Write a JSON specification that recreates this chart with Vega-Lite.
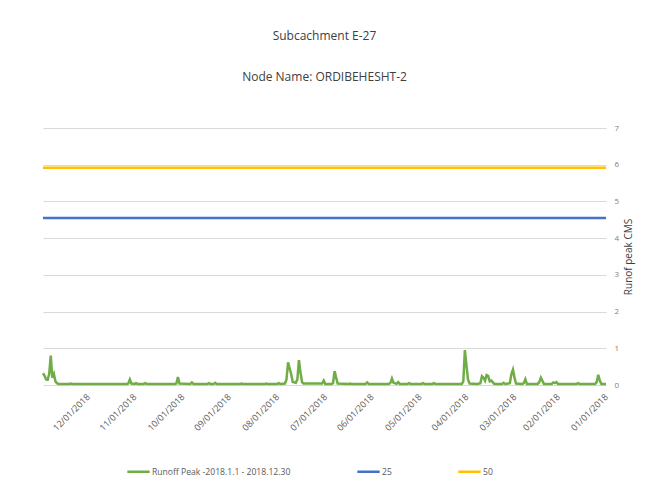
{
  "$schema": "https://vega.github.io/schema/vega-lite/v6.json",
  "width": 563,
  "height": 257,
  "autosize": {"type": "none"},
  "padding": {"left": 43, "top": 128, "right": 46, "bottom": 106},
  "background": "white",
  "config": {
    "view": {"stroke": null},
    "font": "Open Sans"
  },
  "title": {
    "text": "Subcachment E-27",
    "subtitle": "Node Name: ORDIBEHESHT-2",
    "fontSize": 12,
    "fontWeight": "normal",
    "color": "#404040",
    "subtitleFontSize": 12,
    "subtitleColor": "#404040",
    "subtitlePadding": 29,
    "offset": 40,
    "anchor": "middle"
  },
  "data": {
    "values": [
      {"date": "2018-01-01", "value": 0.03, "series": "Runoff Peak -2018.1.1 - 2018.12.30"},
      {"date": "2018-01-04", "value": 0.03, "series": "Runoff Peak -2018.1.1 - 2018.12.30"},
      {"date": "2018-01-05", "value": 0.12, "series": "Runoff Peak -2018.1.1 - 2018.12.30"},
      {"date": "2018-01-06", "value": 0.28, "series": "Runoff Peak -2018.1.1 - 2018.12.30"},
      {"date": "2018-01-07", "value": 0.08, "series": "Runoff Peak -2018.1.1 - 2018.12.30"},
      {"date": "2018-01-08", "value": 0.03, "series": "Runoff Peak -2018.1.1 - 2018.12.30"},
      {"date": "2018-01-18", "value": 0.03, "series": "Runoff Peak -2018.1.1 - 2018.12.30"},
      {"date": "2018-01-19", "value": 0.05, "series": "Runoff Peak -2018.1.1 - 2018.12.30"},
      {"date": "2018-01-20", "value": 0.03, "series": "Runoff Peak -2018.1.1 - 2018.12.30"},
      {"date": "2018-02-01", "value": 0.03, "series": "Runoff Peak -2018.1.1 - 2018.12.30"},
      {"date": "2018-02-02", "value": 0.08, "series": "Runoff Peak -2018.1.1 - 2018.12.30"},
      {"date": "2018-02-03", "value": 0.05, "series": "Runoff Peak -2018.1.1 - 2018.12.30"},
      {"date": "2018-02-04", "value": 0.07, "series": "Runoff Peak -2018.1.1 - 2018.12.30"},
      {"date": "2018-02-05", "value": 0.03, "series": "Runoff Peak -2018.1.1 - 2018.12.30"},
      {"date": "2018-02-10", "value": 0.03, "series": "Runoff Peak -2018.1.1 - 2018.12.30"},
      {"date": "2018-02-12", "value": 0.2, "series": "Runoff Peak -2018.1.1 - 2018.12.30"},
      {"date": "2018-02-13", "value": 0.08, "series": "Runoff Peak -2018.1.1 - 2018.12.30"},
      {"date": "2018-02-14", "value": 0.03, "series": "Runoff Peak -2018.1.1 - 2018.12.30"},
      {"date": "2018-02-21", "value": 0.03, "series": "Runoff Peak -2018.1.1 - 2018.12.30"},
      {"date": "2018-02-22", "value": 0.16, "series": "Runoff Peak -2018.1.1 - 2018.12.30"},
      {"date": "2018-02-23", "value": 0.05, "series": "Runoff Peak -2018.1.1 - 2018.12.30"},
      {"date": "2018-02-24", "value": 0.03, "series": "Runoff Peak -2018.1.1 - 2018.12.30"},
      {"date": "2018-02-28", "value": 0.04, "series": "Runoff Peak -2018.1.1 - 2018.12.30"},
      {"date": "2018-03-01", "value": 0.2, "series": "Runoff Peak -2018.1.1 - 2018.12.30"},
      {"date": "2018-03-02", "value": 0.42, "series": "Runoff Peak -2018.1.1 - 2018.12.30"},
      {"date": "2018-03-03", "value": 0.3, "series": "Runoff Peak -2018.1.1 - 2018.12.30"},
      {"date": "2018-03-04", "value": 0.05, "series": "Runoff Peak -2018.1.1 - 2018.12.30"},
      {"date": "2018-03-07", "value": 0.03, "series": "Runoff Peak -2018.1.1 - 2018.12.30"},
      {"date": "2018-03-08", "value": 0.06, "series": "Runoff Peak -2018.1.1 - 2018.12.30"},
      {"date": "2018-03-09", "value": 0.03, "series": "Runoff Peak -2018.1.1 - 2018.12.30"},
      {"date": "2018-03-14", "value": 0.03, "series": "Runoff Peak -2018.1.1 - 2018.12.30"},
      {"date": "2018-03-16", "value": 0.12, "series": "Runoff Peak -2018.1.1 - 2018.12.30"},
      {"date": "2018-03-17", "value": 0.1, "series": "Runoff Peak -2018.1.1 - 2018.12.30"},
      {"date": "2018-03-18", "value": 0.25, "series": "Runoff Peak -2018.1.1 - 2018.12.30"},
      {"date": "2018-03-19", "value": 0.27, "series": "Runoff Peak -2018.1.1 - 2018.12.30"},
      {"date": "2018-03-20", "value": 0.12, "series": "Runoff Peak -2018.1.1 - 2018.12.30"},
      {"date": "2018-03-21", "value": 0.2, "series": "Runoff Peak -2018.1.1 - 2018.12.30"},
      {"date": "2018-03-22", "value": 0.24, "series": "Runoff Peak -2018.1.1 - 2018.12.30"},
      {"date": "2018-03-23", "value": 0.05, "series": "Runoff Peak -2018.1.1 - 2018.12.30"},
      {"date": "2018-03-25", "value": 0.03, "series": "Runoff Peak -2018.1.1 - 2018.12.30"},
      {"date": "2018-03-30", "value": 0.04, "series": "Runoff Peak -2018.1.1 - 2018.12.30"},
      {"date": "2018-03-31", "value": 0.15, "series": "Runoff Peak -2018.1.1 - 2018.12.30"},
      {"date": "2018-04-02", "value": 0.95, "series": "Runoff Peak -2018.1.1 - 2018.12.30"},
      {"date": "2018-04-03", "value": 0.1, "series": "Runoff Peak -2018.1.1 - 2018.12.30"},
      {"date": "2018-04-04", "value": 0.03, "series": "Runoff Peak -2018.1.1 - 2018.12.30"},
      {"date": "2018-04-21", "value": 0.03, "series": "Runoff Peak -2018.1.1 - 2018.12.30"},
      {"date": "2018-04-22", "value": 0.05, "series": "Runoff Peak -2018.1.1 - 2018.12.30"},
      {"date": "2018-04-23", "value": 0.03, "series": "Runoff Peak -2018.1.1 - 2018.12.30"},
      {"date": "2018-04-28", "value": 0.03, "series": "Runoff Peak -2018.1.1 - 2018.12.30"},
      {"date": "2018-04-29", "value": 0.05, "series": "Runoff Peak -2018.1.1 - 2018.12.30"},
      {"date": "2018-04-30", "value": 0.03, "series": "Runoff Peak -2018.1.1 - 2018.12.30"},
      {"date": "2018-05-07", "value": 0.03, "series": "Runoff Peak -2018.1.1 - 2018.12.30"},
      {"date": "2018-05-08", "value": 0.05, "series": "Runoff Peak -2018.1.1 - 2018.12.30"},
      {"date": "2018-05-09", "value": 0.03, "series": "Runoff Peak -2018.1.1 - 2018.12.30"},
      {"date": "2018-05-14", "value": 0.03, "series": "Runoff Peak -2018.1.1 - 2018.12.30"},
      {"date": "2018-05-15", "value": 0.08, "series": "Runoff Peak -2018.1.1 - 2018.12.30"},
      {"date": "2018-05-16", "value": 0.03, "series": "Runoff Peak -2018.1.1 - 2018.12.30"},
      {"date": "2018-05-18", "value": 0.06, "series": "Runoff Peak -2018.1.1 - 2018.12.30"},
      {"date": "2018-05-19", "value": 0.18, "series": "Runoff Peak -2018.1.1 - 2018.12.30"},
      {"date": "2018-05-20", "value": 0.06, "series": "Runoff Peak -2018.1.1 - 2018.12.30"},
      {"date": "2018-05-21", "value": 0.03, "series": "Runoff Peak -2018.1.1 - 2018.12.30"},
      {"date": "2018-06-03", "value": 0.03, "series": "Runoff Peak -2018.1.1 - 2018.12.30"},
      {"date": "2018-06-04", "value": 0.07, "series": "Runoff Peak -2018.1.1 - 2018.12.30"},
      {"date": "2018-06-05", "value": 0.03, "series": "Runoff Peak -2018.1.1 - 2018.12.30"},
      {"date": "2018-06-14", "value": 0.03, "series": "Runoff Peak -2018.1.1 - 2018.12.30"},
      {"date": "2018-06-15", "value": 0.04, "series": "Runoff Peak -2018.1.1 - 2018.12.30"},
      {"date": "2018-06-16", "value": 0.03, "series": "Runoff Peak -2018.1.1 - 2018.12.30"},
      {"date": "2018-06-23", "value": 0.04, "series": "Runoff Peak -2018.1.1 - 2018.12.30"},
      {"date": "2018-06-24", "value": 0.2, "series": "Runoff Peak -2018.1.1 - 2018.12.30"},
      {"date": "2018-06-25", "value": 0.38, "series": "Runoff Peak -2018.1.1 - 2018.12.30"},
      {"date": "2018-06-26", "value": 0.05, "series": "Runoff Peak -2018.1.1 - 2018.12.30"},
      {"date": "2018-06-27", "value": 0.03, "series": "Runoff Peak -2018.1.1 - 2018.12.30"},
      {"date": "2018-07-01", "value": 0.03, "series": "Runoff Peak -2018.1.1 - 2018.12.30"},
      {"date": "2018-07-02", "value": 0.12, "series": "Runoff Peak -2018.1.1 - 2018.12.30"},
      {"date": "2018-07-03", "value": 0.04, "series": "Runoff Peak -2018.1.1 - 2018.12.30"},
      {"date": "2018-07-15", "value": 0.04, "series": "Runoff Peak -2018.1.1 - 2018.12.30"},
      {"date": "2018-07-16", "value": 0.08, "series": "Runoff Peak -2018.1.1 - 2018.12.30"},
      {"date": "2018-07-17", "value": 0.35, "series": "Runoff Peak -2018.1.1 - 2018.12.30"},
      {"date": "2018-07-18", "value": 0.68, "series": "Runoff Peak -2018.1.1 - 2018.12.30"},
      {"date": "2018-07-19", "value": 0.15, "series": "Runoff Peak -2018.1.1 - 2018.12.30"},
      {"date": "2018-07-20", "value": 0.06, "series": "Runoff Peak -2018.1.1 - 2018.12.30"},
      {"date": "2018-07-22", "value": 0.08, "series": "Runoff Peak -2018.1.1 - 2018.12.30"},
      {"date": "2018-07-23", "value": 0.3, "series": "Runoff Peak -2018.1.1 - 2018.12.30"},
      {"date": "2018-07-25", "value": 0.62, "series": "Runoff Peak -2018.1.1 - 2018.12.30"},
      {"date": "2018-07-26", "value": 0.15, "series": "Runoff Peak -2018.1.1 - 2018.12.30"},
      {"date": "2018-07-27", "value": 0.04, "series": "Runoff Peak -2018.1.1 - 2018.12.30"},
      {"date": "2018-07-30", "value": 0.03, "series": "Runoff Peak -2018.1.1 - 2018.12.30"},
      {"date": "2018-07-31", "value": 0.05, "series": "Runoff Peak -2018.1.1 - 2018.12.30"},
      {"date": "2018-08-01", "value": 0.03, "series": "Runoff Peak -2018.1.1 - 2018.12.30"},
      {"date": "2018-08-07", "value": 0.03, "series": "Runoff Peak -2018.1.1 - 2018.12.30"},
      {"date": "2018-08-08", "value": 0.04, "series": "Runoff Peak -2018.1.1 - 2018.12.30"},
      {"date": "2018-08-09", "value": 0.03, "series": "Runoff Peak -2018.1.1 - 2018.12.30"},
      {"date": "2018-08-23", "value": 0.03, "series": "Runoff Peak -2018.1.1 - 2018.12.30"},
      {"date": "2018-08-24", "value": 0.04, "series": "Runoff Peak -2018.1.1 - 2018.12.30"},
      {"date": "2018-08-25", "value": 0.03, "series": "Runoff Peak -2018.1.1 - 2018.12.30"},
      {"date": "2018-09-09", "value": 0.03, "series": "Runoff Peak -2018.1.1 - 2018.12.30"},
      {"date": "2018-09-10", "value": 0.06, "series": "Runoff Peak -2018.1.1 - 2018.12.30"},
      {"date": "2018-09-11", "value": 0.03, "series": "Runoff Peak -2018.1.1 - 2018.12.30"},
      {"date": "2018-09-13", "value": 0.03, "series": "Runoff Peak -2018.1.1 - 2018.12.30"},
      {"date": "2018-09-14", "value": 0.05, "series": "Runoff Peak -2018.1.1 - 2018.12.30"},
      {"date": "2018-09-15", "value": 0.03, "series": "Runoff Peak -2018.1.1 - 2018.12.30"},
      {"date": "2018-09-24", "value": 0.03, "series": "Runoff Peak -2018.1.1 - 2018.12.30"},
      {"date": "2018-09-25", "value": 0.07, "series": "Runoff Peak -2018.1.1 - 2018.12.30"},
      {"date": "2018-09-26", "value": 0.03, "series": "Runoff Peak -2018.1.1 - 2018.12.30"},
      {"date": "2018-10-03", "value": 0.04, "series": "Runoff Peak -2018.1.1 - 2018.12.30"},
      {"date": "2018-10-04", "value": 0.22, "series": "Runoff Peak -2018.1.1 - 2018.12.30"},
      {"date": "2018-10-05", "value": 0.04, "series": "Runoff Peak -2018.1.1 - 2018.12.30"},
      {"date": "2018-10-06", "value": 0.03, "series": "Runoff Peak -2018.1.1 - 2018.12.30"},
      {"date": "2018-10-24", "value": 0.03, "series": "Runoff Peak -2018.1.1 - 2018.12.30"},
      {"date": "2018-10-25", "value": 0.05, "series": "Runoff Peak -2018.1.1 - 2018.12.30"},
      {"date": "2018-10-26", "value": 0.03, "series": "Runoff Peak -2018.1.1 - 2018.12.30"},
      {"date": "2018-10-30", "value": 0.03, "series": "Runoff Peak -2018.1.1 - 2018.12.30"},
      {"date": "2018-10-31", "value": 0.05, "series": "Runoff Peak -2018.1.1 - 2018.12.30"},
      {"date": "2018-11-01", "value": 0.03, "series": "Runoff Peak -2018.1.1 - 2018.12.30"},
      {"date": "2018-11-03", "value": 0.04, "series": "Runoff Peak -2018.1.1 - 2018.12.30"},
      {"date": "2018-11-04", "value": 0.15, "series": "Runoff Peak -2018.1.1 - 2018.12.30"},
      {"date": "2018-11-05", "value": 0.04, "series": "Runoff Peak -2018.1.1 - 2018.12.30"},
      {"date": "2018-11-06", "value": 0.03, "series": "Runoff Peak -2018.1.1 - 2018.12.30"},
      {"date": "2018-12-11", "value": 0.03, "series": "Runoff Peak -2018.1.1 - 2018.12.30"},
      {"date": "2018-12-12", "value": 0.04, "series": "Runoff Peak -2018.1.1 - 2018.12.30"},
      {"date": "2018-12-13", "value": 0.03, "series": "Runoff Peak -2018.1.1 - 2018.12.30"},
      {"date": "2018-12-20", "value": 0.03, "series": "Runoff Peak -2018.1.1 - 2018.12.30"},
      {"date": "2018-12-21", "value": 0.05, "series": "Runoff Peak -2018.1.1 - 2018.12.30"},
      {"date": "2018-12-22", "value": 0.1, "series": "Runoff Peak -2018.1.1 - 2018.12.30"},
      {"date": "2018-12-23", "value": 0.3, "series": "Runoff Peak -2018.1.1 - 2018.12.30"},
      {"date": "2018-12-24", "value": 0.2, "series": "Runoff Peak -2018.1.1 - 2018.12.30"},
      {"date": "2018-12-25", "value": 0.8, "series": "Runoff Peak -2018.1.1 - 2018.12.30"},
      {"date": "2018-12-26", "value": 0.3, "series": "Runoff Peak -2018.1.1 - 2018.12.30"},
      {"date": "2018-12-27", "value": 0.14, "series": "Runoff Peak -2018.1.1 - 2018.12.30"},
      {"date": "2018-12-28", "value": 0.15, "series": "Runoff Peak -2018.1.1 - 2018.12.30"},
      {"date": "2018-12-29", "value": 0.25, "series": "Runoff Peak -2018.1.1 - 2018.12.30"},
      {"date": "2018-12-30", "value": 0.32, "series": "Runoff Peak -2018.1.1 - 2018.12.30"},
      {"date": "2018-01-01", "value": 4.55, "series": "25"},
      {"date": "2018-12-30", "value": 4.55, "series": "25"},
      {"date": "2018-01-01", "value": 5.92, "series": "50"},
      {"date": "2018-12-30", "value": 5.92, "series": "50"}
    ]
  },
  "mark": {"type": "line", "strokeWidth": 2.5, "interpolate": "linear"},
  "encoding": {
    "x": {
      "field": "date",
      "type": "temporal",
      "scale": {"type": "utc", "reverse": true, "nice": false},
      "axis": {
        "title": null,
        "format": "%m/%d/%Y",
        "tickCount": {"interval": "month", "step": 1},
        "labelAngle": -45,
        "labelAlign": "right",
        "labelBaseline": "middle",
        "labelFontSize": 9,
        "labelColor": "#595959",
        "labelPadding": 10,
        "domain": false,
        "ticks": false,
        "grid": false,
        "labelOverlap": false,
        "labelFlush": false
      }
    },
    "y": {
      "field": "value",
      "type": "quantitative",
      "scale": {"domain": [0, 7], "nice": false},
      "axis": {
        "orient": "right",
        "title": "Runof peak CMS",
        "titleAngle": -90,
        "titleBaseline": "top",
        "titleFontSize": 10,
        "titleFontWeight": "normal",
        "titleColor": "#404040",
        "titlePadding": 5,
        "values": [0, 1, 2, 3, 4, 5, 6, 7],
        "labelFontSize": 8,
        "labelColor": "#808080",
        "labelPadding": 8,
        "domain": false,
        "ticks": false,
        "grid": true,
        "gridColor": "#d9d9d9",
        "gridWidth": 1
      }
    },
    "color": {
      "field": "series",
      "type": "nominal",
      "scale": {
        "domain": ["Runoff Peak -2018.1.1 - 2018.12.30", "25", "50"],
        "range": ["#70AD47", "#4472C4", "#FFC000"]
      },
      "legend": {
        "title": null,
        "orient": "none",
        "legendX": 83,
        "legendY": 331,
        "direction": "horizontal",
        "symbolType": "stroke",
        "symbolSize": 500,
        "symbolStrokeWidth": 2.5,
        "labelFontSize": 8.6,
        "labelColor": "#595959",
        "columnPadding": 61,
        "labelOffset": 1
      }
    }
  }
}
